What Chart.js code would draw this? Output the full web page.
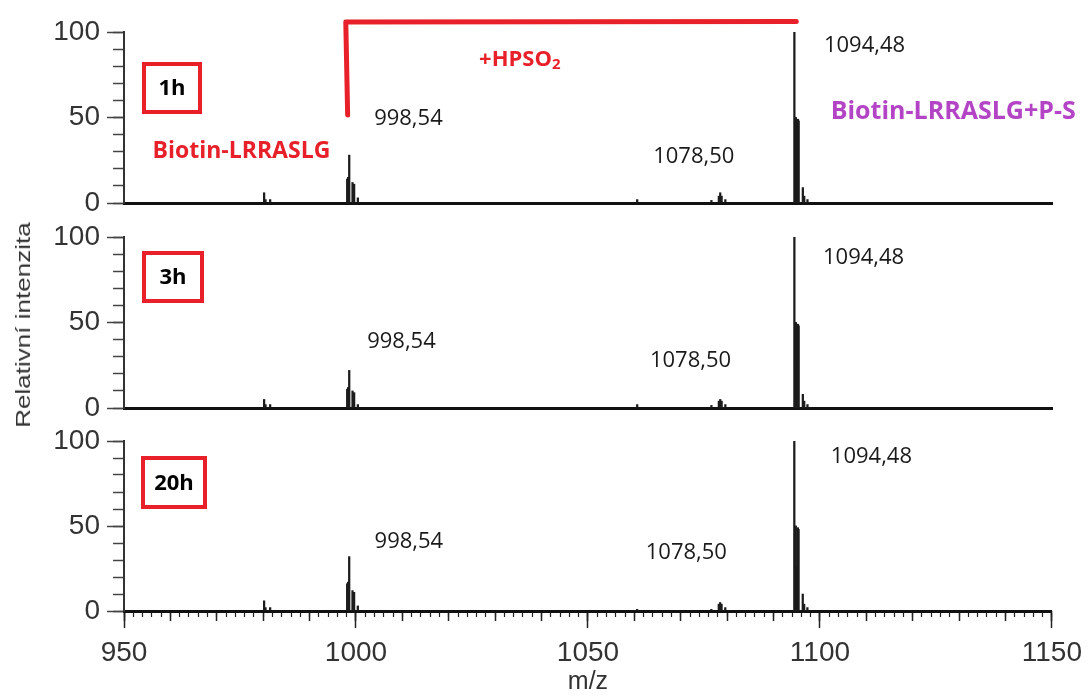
<!DOCTYPE html>
<html>
<head>
<meta charset="utf-8">
<script src="https://cdn.jsdelivr.net/npm/chart.js@4.4.1/dist/chart.umd.min.js"></script>
<style>
	html, body { margin: 0; padding: 0; background: #fff; }
	body { width: 1090px; height: 697px; position: relative; overflow: hidden; }
	.panel { position: absolute; left: 0; width: 1090px; }
	#ytitle {
		position: absolute; left: 23px; top: 325px;
		transform: translate(-50%, -50%) rotate(-90deg) scaleX(1.24);
		font: 21px "Liberation Sans", Arial, sans-serif; color: #333; white-space: nowrap;
	}
</style>
</head>
<body>
<div class="panel" style="top:8px;height:219px"><canvas id="c1"></canvas></div>
<div class="panel" style="top:213px;height:219px"><canvas id="c2"></canvas></div>
<div class="panel" style="top:417px;height:280px"><canvas id="c3"></canvas></div>
<div id="ytitle">Relativní intenzita</div>
<script>
// m/z of the drawn sticks and their relative intensity per reaction time
const stickMz = [980.2, 980.5, 981.5, 998.1, 998.3, 998.54, 999.25, 999.6, 1000.4, 1060.6, 1076.6, 1078.2, 1078.5, 1078.8, 1079.6, 1094.48, 1094.65, 1094.8, 1094.95, 1095.1, 1095.25, 1095.4, 1096.3, 1096.6, 1097.3];
const int1h  = [6, 2, 2, 14, 15, 28, 12, 11, 3, 2, 1.5, 4, 6, 4, 2, 100, 50, 50, 26, 25, 49, 48, 9, 4, 2];
const int3h  = [5, 2, 2, 11, 12, 22, 10, 9, 2, 2, 1.5, 4, 5, 4, 2, 100, 50, 50, 26, 25, 49, 48, 8, 4, 2];
const int20h = [6, 2, 2, 16, 17, 32, 12, 11, 3, 1, 1, 4, 5, 4, 2, 100, 50, 50, 26, 25, 49, 48, 10, 4, 2];

const timeLabels = ['1h', '3h', '20h'];
const peakText = ['998,54', '1078,50', '1094,48'];
const xTicks = [950, 1000, 1050, 1100, 1150];
const yTicks = [0, 50, 100];

const RED = '#e8202a';
const PURPLE = '#b444c6';
const AXIS_FONT = '"Liberation Sans", Arial, sans-serif';
const NOTE_FONT = '"Open Sans", "Noto Sans", sans-serif';

function range(a, b, step) {
	const out = [];
	for (let v = a; v <= b + 1e-9; v += step) out.push({ value: v });
	return out;
}

// peak labels are placed in data units [m/z, intensity] of their centre
const panels = [
	{
		id: 'c1', values: int1h, bottom: false,
		box: { x: 18, y: 30, w: 60, h: 52 },
		labels: [[1011.3, 49.5], [1072.8, 27], [1109.6, 92]],
		extra: true
	},
	{
		id: 'c2', values: int3h, bottom: false,
		box: { x: 18, y: 14, w: 62, h: 52 },
		labels: [[1009.8, 39], [1072.1, 27.5], [1109.4, 88]]
	},
	{
		id: 'c3', values: int20h, bottom: true,
		box: { x: 17, y: 15, w: 66, h: 53 },
		labels: [[1011.4, 40.5], [1071.2, 34.5], [1111.1, 91]]
	}
];

const notes = {
	id: 'notes',
	afterDraw(chart, args, opts) {
		const { ctx, chartArea } = chart;
		const xs = chart.scales.x, ys = chart.scales.y;
		const px = v => xs.getPixelForValue(v), py = v => ys.getPixelForValue(v);
		ctx.save();
		ctx.textAlign = 'center';
		ctx.textBaseline = 'middle';

		// peak m/z labels
		ctx.fillStyle = '#1a1a1a';
		ctx.font = '22px ' + NOTE_FONT;
		opts.labels.forEach((p, i) => ctx.fillText(peakText[i], px(p[0]), py(p[1])));

		// time box
		const b = opts.box;
		ctx.strokeStyle = RED;
		ctx.lineWidth = 4;
		ctx.strokeRect(chartArea.left + b.x + 2, chartArea.top + b.y + 2, b.w - 4, b.h - 4);
		ctx.fillStyle = '#000';
		ctx.font = 'bold 22px ' + NOTE_FONT;
		ctx.fillText(opts.time, chartArea.left + b.x + b.w / 2, chartArea.top + b.y + b.h / 2 + 1);

		if (opts.extra) {
			ctx.font = 'bold 23px ' + NOTE_FONT;
			ctx.fillStyle = RED;
			ctx.fillText('Biotin-LRRASLG', px(975.3), py(30));
			ctx.fillStyle = PURPLE;
			ctx.font = 'bold 25px ' + NOTE_FONT;
			ctx.fillText('Biotin-LRRASLG+P-S', px(1128.7), py(53));

			// +HPSO2 with a subscript
			ctx.fillStyle = RED;
			ctx.textAlign = 'left';
			const main = '+HPSO';
			ctx.font = 'bold 22px ' + NOTE_FONT;
			const w = ctx.measureText(main).width;
			ctx.font = 'bold 15px ' + NOTE_FONT;
			const w2 = ctx.measureText('2').width;
			const left = px(1035.3) - (w + w2) / 2;
			ctx.font = 'bold 22px ' + NOTE_FONT;
			ctx.fillText(main, left, py(83.6));
			ctx.font = 'bold 15px ' + NOTE_FONT;
			ctx.fillText('2', left + w, py(83.6) + 5);

			// bracket from 998,54 to 1094,48
			ctx.strokeStyle = RED;
			ctx.lineWidth = 5;
			ctx.lineCap = 'round';
			ctx.lineJoin = 'round';
			ctx.beginPath();
			ctx.moveTo(px(998.2), py(51.5));
			ctx.lineTo(px(997.8), py(105.8));
			ctx.lineTo(px(1094.9), py(106.2));
			ctx.stroke();
		}
		ctx.restore();
	}
};

function buildScales(bottom) {
	const tickFont = { family: AXIS_FONT, size: 28 };
	const s = {
		x: {
			type: 'linear', min: 950, max: 1150, offset: false, weight: 10,
			afterBuildTicks: sc => { sc.ticks = xTicks.map(v => ({ value: v })); },
			ticks: { display: bottom, font: tickFont, color: '#333', padding: 8, maxRotation: 0, autoSkip: false, callback: v => String(v) },
			grid: { drawOnChartArea: false, drawTicks: bottom, tickLength: 17, tickColor: '#222', tickWidth: 1.5, offset: false },
			border: { display: true, color: '#111', width: 3 },
			title: { display: bottom, text: 'm/z', font: { family: AXIS_FONT, size: 25 }, color: '#333', padding: { top: 0, bottom: 0 } },
			afterFit: sc => { sc.height = bottom ? 86 : 0; }
		},
		y: {
			type: 'linear', position: 'left', min: 0, max: 100, weight: 10,
			afterBuildTicks: sc => { sc.ticks = yTicks.map(v => ({ value: v })); },
			ticks: { font: tickFont, color: '#333', padding: 7, callback: v => String(v) },
			grid: { drawOnChartArea: false, tickLength: 17, tickColor: '#444', tickWidth: 1.5 },
			border: { display: true, color: '#333', width: 2 },
			afterFit: sc => { sc.width = 124; }
		},
		ym: {
			type: 'linear', position: 'left', min: 0, max: 100, weight: 0,
			afterBuildTicks: sc => { sc.ticks = range(0, 100, 10); },
			ticks: { display: false },
			grid: { drawOnChartArea: false, tickLength: 11, tickColor: '#444', tickWidth: 1.5 },
			border: { display: false },
			afterFit: sc => { sc.width = 0; }
		}
	};
	if (bottom) {
		s.xm = {
			type: 'linear', position: 'bottom', min: 950, max: 1150, offset: false, weight: 1,
			afterBuildTicks: sc => { sc.ticks = range(950, 1150, 10); },
			ticks: { display: false },
			grid: { drawOnChartArea: false, tickLength: 10, tickColor: '#222', tickWidth: 1.5, offset: false },
			border: { display: false },
			afterFit: sc => { sc.height = 0; }
		};
		s.xs = {
			type: 'linear', position: 'bottom', min: 950, max: 1150, offset: false, weight: 0,
			afterBuildTicks: sc => { sc.ticks = range(950, 1150, 2); },
			ticks: { display: false },
			grid: { drawOnChartArea: false, tickLength: 6, tickColor: '#222', tickWidth: 1.2, offset: false },
			border: { display: false },
			afterFit: sc => { sc.height = 0; }
		};
	}
	return s;
}

panels.forEach((p, i) => {
	new Chart(document.getElementById(p.id), {
		type: 'bar',
		data: {
			datasets: [{
				data: stickMz.map((m, k) => ({ x: m, y: p.values[k] })),
				backgroundColor: '#1c1c1c',
				borderWidth: 0,
				barThickness: 1.6,
				grouped: false,
				xAxisID: 'x',
				yAxisID: 'y'
			}]
		},
		options: {
			responsive: true,
			maintainAspectRatio: false,
			animation: false,
			layout: { padding: { top: 24, right: 38, left: 0, bottom: p.bottom ? 0 : 24 } },
			scales: buildScales(p.bottom),
			plugins: {
				legend: { display: false },
				tooltip: { enabled: false },
				notes: { labels: p.labels, box: p.box, time: timeLabels[i], extra: !!p.extra }
			}
		},
		plugins: [notes]
	});
});
</script>
</body>
</html>
